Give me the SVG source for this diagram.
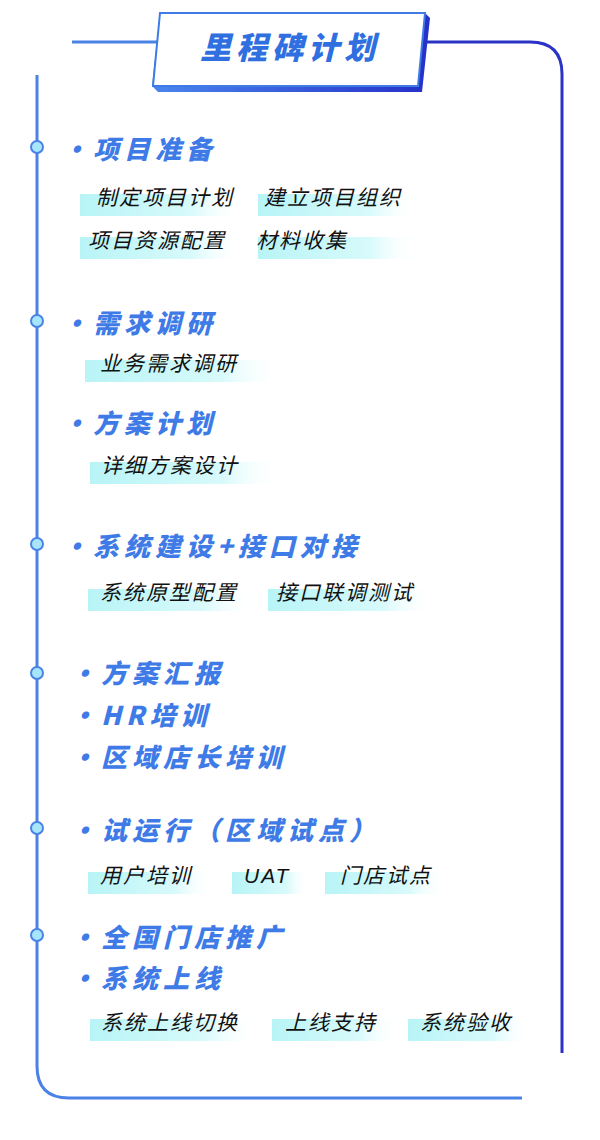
<svg xmlns="http://www.w3.org/2000/svg" width="600" height="1140" viewBox="0 0 600 1140">
<defs>
<linearGradient id="hl" x1="0" x2="1" y1="0" y2="0"><stop offset="0" stop-color="#b8f4f6"/><stop offset="0.7" stop-color="#d8fafb"/><stop offset="1" stop-color="#ffffff" stop-opacity="0"/></linearGradient>
<linearGradient id="ban" x1="0" x2="1"><stop offset="0" stop-color="#4a86ee"/><stop offset="1" stop-color="#2530c8"/></linearGradient>
<style>
.h{font-family:"Noto Sans CJK SC",sans-serif;font-weight:900;font-style:italic;font-size:26px;fill:#3f7be6;letter-spacing:5px}
.t{font-family:"Noto Sans CJK SC",sans-serif;font-size:21px;fill:#111;font-style:italic;letter-spacing:2px}
.dot{fill:#a6e6fb;stroke:#4b82e8;stroke-width:2}
.hl{fill:url(#hl)}
</style>
</defs>
<g id="connectors" fill="none" stroke-width="3">
<path d="M72 42 H160" stroke="#4b82e8"/>
<path d="M424 42 H530 Q562 42 562 74 V1053" stroke="#2a33c6"/>
<path d="M37 75 V1066 Q37 1098 69 1098 H522" stroke="#4b82e8"/>
</g>
<g id="banner">
<polygon points="160,13 425,13 430,18 422,92 158,92 152,86" fill="url(#ban)"/>
<polygon points="160,13 425,13 418,86 153,86" fill="#fff" stroke="#3f7be6" stroke-width="2"/>
<text x="290" y="59" text-anchor="middle" style="font-family:'Noto Sans CJK SC',sans-serif;font-weight:900;font-style:italic;font-size:31px;fill:#2f6fe0;letter-spacing:5px">里程碑计划</text>
</g>
<g id="dots">
<circle class="dot" cx="37" cy="147" r="6"/><circle class="dot" cx="37" cy="321" r="6"/><circle class="dot" cx="37" cy="544" r="6"/><circle class="dot" cx="37" cy="673" r="6"/><circle class="dot" cx="37" cy="828" r="6"/><circle class="dot" cx="37" cy="935" r="6"/>
</g>
<g id="s1">
<text class="h" x="62" y="159">·项目准备</text>
<rect class="hl" x="80" y="194" width="160" height="22"/><rect class="hl" x="258" y="194" width="160" height="22"/>
<text class="t" x="96" y="205">制定项目计划</text><text class="t" x="264" y="205">建立项目组织</text>
<rect class="hl" x="80" y="237" width="160" height="22"/><rect class="hl" x="258" y="237" width="160" height="22"/>
<text class="t" x="88" y="248">项目资源配置</text><text class="t" x="256" y="248">材料收集</text>
</g>
<g id="s2">
<text class="h" x="62" y="333">·需求调研</text>
<rect class="hl" x="85" y="360" width="195" height="22"/>
<text class="t" x="100" y="371">业务需求调研</text>
</g>
<g id="s3">
<text class="h" x="62" y="433">·方案计划</text>
<rect class="hl" x="90" y="462" width="190" height="22"/>
<text class="t" x="101" y="473">详细方案设计</text>
</g>
<g id="s4">
<text class="h" x="62" y="556">·系统建设+接口对接</text>
<rect class="hl" x="88" y="589" width="165" height="22"/><rect class="hl" x="268" y="589" width="165" height="22"/>
<text class="t" x="100" y="600">系统原型配置</text><text class="t" x="276" y="600">接口联调测试</text>
</g>
<g id="s5">
<text class="h" x="70" y="683">·方案汇报</text>
<text class="h" x="70" y="725">·HR培训</text>
<text class="h" x="70" y="767">·区域店长培训</text>
</g>
<g id="s6">
<text class="h" x="70" y="840">·试运行（区域试点）</text>
<rect class="hl" x="88" y="872" width="125" height="22"/><rect class="hl" x="232" y="872" width="78" height="22"/><rect class="hl" x="325" y="872" width="120" height="22"/>
<text class="t" x="100" y="883">用户培训</text><text class="t" x="244" y="883" style="font-family:'Liberation Sans',sans-serif">UAT</text><text class="t" x="340" y="883">门店试点</text>
</g>
<g id="s7">
<text class="h" x="70" y="947">·全国门店推广</text>
<text class="h" x="70" y="988">·系统上线</text>
<rect class="hl" x="90" y="1019" width="165" height="22"/><rect class="hl" x="272" y="1019" width="125" height="22"/><rect class="hl" x="408" y="1019" width="122" height="22"/>
<text class="t" x="101" y="1030">系统上线切换</text><text class="t" x="285" y="1030">上线支持</text><text class="t" x="420" y="1030">系统验收</text>
</g>
</svg>
